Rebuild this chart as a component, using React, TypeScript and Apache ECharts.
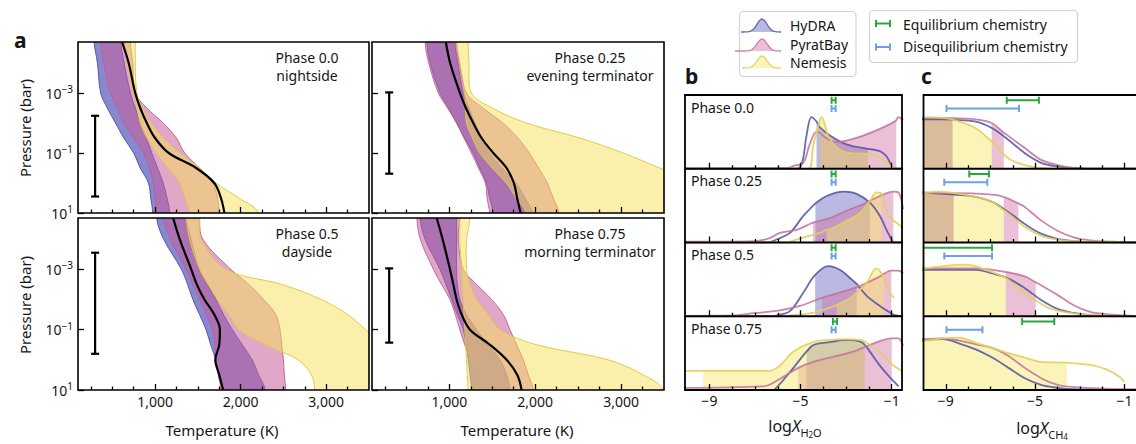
import React, { useEffect, useRef } from "react";
import * as echarts from "echarts";

const FONT = '"Noto Sans", "DejaVu Sans", sans-serif';
const INK = "#161616";

// ---------------- panel a : temperature-pressure profiles ----------------
const LOG10_P_BAR = [-4.7, -4, -3, -2.5, -2, -1.5, -1, -0.5, 0, 0.5, 1];
const T_MIN = 100;
const T_MAX = 3500;
const P_MIN_EXP = -4.7;
const P_MAX_EXP = 1;
const T_MAJOR = [1000, 2000, 3000];
const T_MINOR = [250, 500, 750, 1250, 1500, 1750, 2250, 2500, 2750, 3250];
const P_TICKS = [-3, -1, 1];
const PHASE_NAMES = ["Phase 0.0", "Phase 0.25", "Phase 0.5", "Phase 0.75"];
const PHASE_SIDES = ["nightside", "evening terminator", "dayside", "morning terminator"];

// Temperature (K) at each pressure level, one row per phase
const HYDRA_T_LOW = [
  [288, 327, 365, 442, 538, 635, 750, 827, 923, 950, 973],
  [738, 777, 892, 990, 1085, 1180, 1277, 1354, 1431, 1470, 1508],
  [1019, 1100, 1308, 1380, 1442, 1520, 1596, 1650, 1711, 1750, 1788],
  [659, 717, 891, 961, 1027, 1093, 1163, 1194, 1221, 1241, 1260],
];
const HYDRA_T_HIGH = [
  [600, 640, 712, 770, 827, 900, 962, 1030, 1096, 1140, 1173],
  [1065, 1100, 1162, 1230, 1296, 1380, 1469, 1620, 1777, 1880, 1969],
  [1365, 1420, 1519, 1610, 1711, 1800, 1904, 2020, 2135, 2210, 2288],
  [1085, 1085, 1085, 1093, 1124, 1202, 1318, 1454, 1590, 1667, 1706],
];
const PYRAT_T_LOW = [
  [365, 400, 481, 560, 635, 750, 865, 930, 981, 1000, 1019],
  [719, 760, 873, 980, 1085, 1170, 1258, 1340, 1420, 1440, 1469],
  [1096, 1180, 1365, 1440, 1519, 1600, 1673, 1700, 1711, 1740, 1769],
  [623, 662, 815, 910, 1008, 1070, 1123, 1180, 1238, 1270, 1296],
];
const PYRAT_T_HIGH = [
  [711, 740, 769, 904, 1096, 1250, 1346, 1519, 1673, 1730, 1750],
  [1085, 1120, 1200, 1392, 1623, 1800, 1931, 2040, 2142, 2210, 2277],
  [1520, 1558, 1885, 2096, 2269, 2411, 2461, 2480, 2500, 2511, 2527],
  [1124, 1105, 1163, 1318, 1493, 1629, 1706, 1784, 1861, 1920, 1978],
];
const NEMESIS_T_LOW = [
  [654, 673, 750, 790, 827, 904, 1019, 1150, 1290, 1350, 1404],
  [1085, 1123, 1181, 1190, 1200, 1270, 1354, 1500, 1662, 1780, 1892],
  [1365, 1404, 1520, 1620, 1731, 1865, 1981, 2288, 2673, 2827, 2865],
  [1123, 1123, 1142, 1150, 1162, 1170, 1181, 1190, 1200, 1210, 1219],
];
const NEMESIS_T_HIGH = [
  [769, 769, 788, 850, 950, 1100, 1288, 1519, 1711, 1980, 2211],
  [1219, 1230, 1258, 1500, 1900, 2520, 3025, 3450, 3900, 4200, 4500],
  [1519, 1540, 1827, 2480, 2942, 3250, 3460, 3650, 3800, 3900, 4000],
  [1241, 1202, 1202, 1241, 1318, 1454, 1590, 2017, 2850, 3258, 3491],
];
const MEDIAN_T = [
  [615, 692, 769, 827, 904, 1000, 1160, 1480, 1692, 1770, 1811],
  [960, 1010, 1124, 1194, 1279, 1376, 1512, 1667, 1752, 1790, 1830],
  [1212, 1288, 1423, 1488, 1577, 1692, 1758, 1750, 1704, 1750, 1796],
  [853, 922, 1008, 1047, 1085, 1144, 1241, 1473, 1667, 1792, 1842],
];
// black bars: probed pressure range (log10 bar) drawn at T = 300 K
const CF_T = 300;
const CF_TOP = [-2.24, -3.02, -3.55, -3.03];
const CF_BOTTOM = [0.45, -0.31, -0.2, -0.57];

// ---------------- panels b, c : abundance posteriors ----------------
const B_XMIN = -10.07;
const C_XMIN = -10.0;
const BC_XSPAN = 9.52;
const LOGX_MAJOR = [-9, -5, -1];
const LOGX_MINOR = [-8, -7, -6, -4, -3, -2];

const H2O_HYDRA = [
  [[-10.3, 0], [-5.3, 0], [-5.03, 0.02], [-4.88, 0.15], [-4.74, 0.45], [-4.52, 0.7], [-4.3, 0.64], [-4.15, 0.56], [-3.71, 0.45], [-2.99, 0.33], [-2.05, 0.27], [-1.52, 0.24], [-1.23, 0.17], [-1.01, 0.04], [-0.9, 0], [-0.5, 0]],
  [[-10.3, 0], [-6.4, 0], [-6.06, 0.04], [-5.47, 0.13], [-4.88, 0.36], [-4.45, 0.5], [-4.35, 0.53], [-3.86, 0.63], [-3.13, 0.69], [-2.54, 0.66], [-1.96, 0.54], [-1.52, 0.36], [-1.23, 0.17], [-1.01, 0.04], [-0.9, 0], [-0.5, 0]],
  [[-10.3, 0], [-6.2, 0], [-6.06, 0.01], [-5.47, 0.07], [-4.88, 0.32], [-4.36, 0.56], [-3.79, 0.68], [-3.28, 0.63], [-2.69, 0.48], [-2.54, 0.44], [-2.11, 0.28], [-1.52, 0.14], [-1.08, 0.05], [-0.9, 0.02], [-0.5, 0]],
  [[-10.3, 0], [-6.2, 0], [-6.06, 0.03], [-5.47, 0.24], [-4.88, 0.47], [-4.74, 0.52], [-4.44, 0.61], [-3.71, 0.65], [-2.99, 0.68], [-2.4, 0.66], [-2.2, 0.62], [-1.96, 0.52], [-1.52, 0.33], [-1.08, 0.17], [-0.7, 0.05]],
];
const H2O_PYRAT = [
  [[-10.3, 0.005], [-5.6, 0.01], [-5.3, 0.04], [-4.88, 0.08], [-4.6, 0.33], [-4.3, 0.5], [-4.15, 0.49], [-3.9, 0.42], [-3.42, 0.36], [-2.99, 0.38], [-2.25, 0.45], [-1.52, 0.54], [-0.93, 0.63], [-0.8, 0.66], [-0.71, 0.7], [-0.5, 0.66]],
  [[-10.3, 0.01], [-7, 0.02], [-6.35, 0.06], [-5.91, 0.13], [-5.18, 0.17], [-4.45, 0.27], [-3.71, 0.33], [-2.99, 0.43], [-2.25, 0.52], [-1.52, 0.63], [-0.93, 0.69], [-0.71, 0.68], [-0.5, 0.45]],
  [[-10.3, 0.005], [-8, 0.01], [-7.37, 0.03], [-5.91, 0.08], [-5.03, 0.14], [-4.06, 0.25], [-3.28, 0.32], [-2.4, 0.41], [-1.52, 0.54], [-1.02, 0.62], [-0.71, 0.62], [-0.5, 0.58]],
  [[-10.3, 0.03], [-6.64, 0.05], [-5.91, 0.15], [-5.1, 0.3], [-4.44, 0.38], [-3.57, 0.45], [-2.69, 0.52], [-1.81, 0.63], [-1.0, 0.7], [-0.71, 0.7], [-0.5, 0.6]],
];
const H2O_NEMESIS = [
  [[-10.3, 0], [-4.66, 0], [-4.45, 0.3], [-4.15, 0.66], [-4.08, 0.7], [-3.79, 0.45], [-3.42, 0.29], [-2.99, 0.22], [-2.05, 0.2], [-1.52, 0.15], [-1.1, 0.05], [-0.9, 0]],
  [[-10.3, 0], [-5.6, 0], [-5.47, 0.01], [-4.74, 0.08], [-4.15, 0.13], [-3.86, 0.17], [-3.57, 0.2], [-2.99, 0.29], [-2.4, 0.4], [-1.96, 0.56], [-1.67, 0.68], [-1.45, 0.66], [-1.23, 0.42], [-1.0, 0.32], [-0.5, 0.2]],
  [[-10.3, 0], [-5.5, 0], [-5.47, 0.01], [-4.44, 0.05], [-3.42, 0.15], [-2.69, 0.28], [-2.11, 0.45], [-1.67, 0.65], [-1.35, 0.53], [-1.08, 0.32], [-0.9, 0.25]],
  [[-10.3, 0.26], [-9.27, 0.26], [-8, 0.26], [-6.35, 0.26], [-5.91, 0.33], [-5.32, 0.52], [-4.44, 0.65], [-3.71, 0.68], [-2.99, 0.69], [-2.4, 0.68], [-2.2, 0.66], [-1.96, 0.61], [-1.52, 0.52], [-1.0, 0.35], [-0.5, 0.25]],
];
const H2O_HYDRA_CI = [[[-4.3, -2.05]], [[-4.35, -1.96]], [[-4.36, -2.54]], [[-4.74, -2.2]]];
const H2O_PYRAT_CI = [[[-4.15, -0.8]], [[-4.45, -0.93]], [[-4.06, -1.02]], [[-5.1, -1.0]]];
const H2O_NEMESIS_CI = [[[-4.15, -2.05]], [[-3.86, -1.45]], [[-3.42, -1.35]], [[-9.27, -2.2]]];
const H2O_EQ = [[-3.64, -3.46], [-3.64, -3.46], [-3.64, -3.46], [-3.58, -3.4]];
const H2O_DISEQ = [[-3.64, -3.46], [-3.64, -3.46], [-3.64, -3.46], [-3.64, -3.46]];

const CH4_HYDRA = [
  [[-10.1, 0.67], [-9.12, 0.67], [-8.7, 0.665], [-7.66, 0.64], [-6.92, 0.55], [-6.19, 0.39], [-5.46, 0.21], [-4.73, 0.08], [-4.0, 0.03], [-3.27, 0.01], [-2.5, 0], [-0.5, 0]],
  [[-10.1, 0.68], [-9.12, 0.66], [-8.65, 0.65], [-7.66, 0.62], [-6.92, 0.55], [-6.19, 0.41], [-5.46, 0.25], [-4.73, 0.12], [-4.0, 0.05], [-3.27, 0.02], [-2.5, 0.005], [-0.5, 0]],
  [[-10.1, 0.63], [-9.12, 0.63], [-7.66, 0.63], [-6.92, 0.58], [-6.19, 0.51], [-5.46, 0.38], [-4.73, 0.22], [-4.0, 0.1], [-3.27, 0.045], [-2.54, 0.015], [-1.5, 0], [-0.5, 0]],
  [[-10.1, 0.67], [-9.12, 0.69], [-8.39, 0.63], [-7.66, 0.55], [-6.92, 0.44], [-6.19, 0.3], [-5.46, 0.16], [-4.73, 0.07], [-4.0, 0.03], [-3.27, 0.01], [-0.5, 0]],
];
const CH4_PYRAT = [
  [[-10.1, 0.69], [-9.12, 0.69], [-8.7, 0.685], [-7.66, 0.67], [-6.95, 0.62], [-6.4, 0.49], [-5.46, 0.28], [-4.73, 0.12], [-4.0, 0.05], [-3.27, 0.01], [-2.5, 0], [-0.5, 0]],
  [[-10.1, 0.67], [-8.65, 0.67], [-6.92, 0.65], [-6.41, 0.62], [-5.75, 0.53], [-5.46, 0.48], [-4.73, 0.3], [-4.0, 0.16], [-3.27, 0.07], [-2.54, 0.03], [-1.5, 0.01], [-0.5, 0]],
  [[-10.1, 0.65], [-7.66, 0.65], [-6.32, 0.6], [-5.46, 0.54], [-4.97, 0.46], [-4.73, 0.42], [-4.0, 0.29], [-3.27, 0.15], [-2.54, 0.06], [-1.81, 0.03], [-1.0, 0.01], [-0.5, 0]],
  [[-10.1, 0.69], [-9.12, 0.7], [-8.39, 0.67], [-7.66, 0.62], [-6.92, 0.57], [-6.19, 0.46], [-5.46, 0.3], [-4.73, 0.16], [-4.0, 0.07], [-3.27, 0.04], [-1.81, 0.02], [-0.5, 0.01]],
];
const CH4_NEMESIS = [
  [[-10.1, 0.7], [-9.12, 0.69], [-8.39, 0.64], [-7.66, 0.55], [-6.95, 0.37], [-6.19, 0.14], [-5.46, 0.05], [-4.73, 0.01], [-4.0, 0], [-0.5, 0]],
  [[-10.1, 0.66], [-9.4, 0.69], [-7.66, 0.62], [-6.92, 0.55], [-6.41, 0.44], [-6.19, 0.39], [-5.46, 0.21], [-4.73, 0.09], [-4.0, 0.04], [-3.27, 0.02], [-1.81, 0.01], [-0.5, 0]],
  [[-10.1, 0.64], [-9.12, 0.68], [-8.1, 0.7], [-7.2, 0.63], [-6.32, 0.52], [-5.75, 0.38], [-5.0, 0.22], [-4.29, 0.1], [-3.27, 0.04], [-2.0, 0.01], [-0.5, 0]],
  [[-10.1, 0.66], [-9.12, 0.7], [-8.39, 0.71], [-7.66, 0.64], [-6.92, 0.57], [-6.19, 0.5], [-5.46, 0.44], [-4.73, 0.38], [-3.58, 0.37], [-2.54, 0.34], [-1.81, 0.28], [-1.22, 0.18], [-1.0, 0.11]],
];
const CH4_HYDRA_CI = [[[-10.1, -8.7]], [[-10.1, -8.65]], [], []];
const CH4_PYRAT_CI = [[[-10.1, -8.7], [-6.95, -6.4]], [[-10.1, -8.65], [-6.41, -5.75]], [[-6.32, -4.97]], []];
const CH4_NEMESIS_CI = [[[-10.1, -6.95]], [[-10.1, -6.41]], [[-10.1, -6.32]], [[-10.1, -3.58]]];
const CH4_EQ = [[-6.27, -4.83], [-7.95, -7.07], [-10.4, -6.93], [-5.58, -4.14]];
const CH4_DISEQ = [[-8.97, -5.72], [-9.07, -7.14], [-9.07, -6.93], [-8.97, -7.36]];
const EQ_LEVEL = 0.93;
const DISEQ_LEVEL = 0.818;

// ---------------- layout & styles ----------------
const A_BOXES = [
  { l: 78, t: 42, w: 291, h: 171 },
  { l: 372, t: 42, w: 292, h: 171 },
  { l: 78, t: 218, w: 291, h: 172 },
  { l: 372, t: 218, w: 292, h: 172 },
];
const A_TEXT_X = [307, 590, 307, 590];
const ROW_TOPS = [95, 168.75, 242.5, 316.25];
const ROW_H = 73.75;
const B_LEFT = 685;
const C_LEFT = 923.5;
const BC_W = 217;

const A_STYLE = [
  { fill: "rgba(80,80,185,0.68)", edge: "rgba(75,75,165,0.9)" },
  { fill: "rgba(200,95,155,0.55)", edge: "rgba(185,95,145,0.9)" },
  { fill: "rgba(246,226,90,0.5)", edge: "rgba(222,200,70,0.95)" },
];
const D_STYLE = [
  { line: "rgba(80,80,165,0.85)", fill: "rgba(100,100,190,0.45)" },
  { line: "rgba(195,110,155,0.85)", fill: "rgba(210,112,165,0.45)" },
  { line: "rgba(226,208,90,0.9)", fill: "rgba(246,230,100,0.45)" },
];
const EQ_COLOR = "#2aa83d";
const DISEQ_COLOR = "#6d9fea";
const SMOOTH = 0.35;

function bandSeries(xi: number, yi: number, lo: number[], hi: number[], fill: string, edge: string) {
  return {
    type: "custom",
    xAxisIndex: xi,
    yAxisIndex: yi,
    clip: true,
    silent: true,
    z: 2,
    data: LOG10_P_BAR.map((p, i) => [lo[i], hi[i], p]),
    renderItem: (params: any, api: any) => {
      if (params.dataIndex !== 0) return null;
      const loPts = LOG10_P_BAR.map((p, i) => api.coord([lo[i], p]));
      const hiPts = LOG10_P_BAR.map((p, i) => api.coord([hi[i], p]));
      const ext = (pts: number[][]) => [
        [pts[0][0], pts[0][1] - 30],
        ...pts,
        [pts[pts.length - 1][0], pts[pts.length - 1][1] + 30],
      ];
      const L = ext(loPts);
      const H = ext(hiPts);
      return {
        type: "group",
        children: [
          { type: "polygon", shape: { points: [...L, ...H.slice().reverse()], smooth: SMOOTH }, style: { fill, stroke: "none" } },
          { type: "polyline", shape: { points: L, smooth: SMOOTH }, style: { stroke: edge, lineWidth: 1, fill: "none" } },
          { type: "polyline", shape: { points: H, smooth: SMOOTH }, style: { stroke: edge, lineWidth: 1, fill: "none" } },
        ],
      };
    },
  };
}

function vErrBar(xi: number, yi: number, t: number, top: number, bottom: number) {
  return {
    type: "custom",
    xAxisIndex: xi,
    yAxisIndex: yi,
    z: 5,
    silent: true,
    data: [[t, top, bottom]],
    renderItem: (_p: any, api: any) => {
      const a = api.coord([api.value(0), api.value(1)]);
      const b = api.coord([api.value(0), api.value(2)]);
      const s = { stroke: "#000", lineWidth: 2.2 };
      return {
        type: "group",
        children: [
          { type: "line", shape: { x1: a[0], y1: a[1], x2: b[0], y2: b[1] }, style: s },
          { type: "line", shape: { x1: a[0] - 4, y1: a[1], x2: a[0] + 4, y2: a[1] }, style: s },
          { type: "line", shape: { x1: b[0] - 4, y1: b[1], x2: b[0] + 4, y2: b[1] }, style: s },
        ],
      };
    },
  };
}

function hErrBar(xi: number, yi: number, range: number[], level: number, color: string) {
  return {
    type: "custom",
    xAxisIndex: xi,
    yAxisIndex: yi,
    z: 5,
    clip: true,
    silent: true,
    data: [[range[0], range[1], level]],
    renderItem: (_p: any, api: any) => {
      const a = api.coord([api.value(0), api.value(2)]);
      const b = api.coord([api.value(1), api.value(2)]);
      const s = { stroke: color, lineWidth: 2 };
      return {
        type: "group",
        children: [
          { type: "line", shape: { x1: a[0], y1: a[1], x2: b[0], y2: b[1] }, style: s },
          { type: "line", shape: { x1: a[0], y1: a[1] - 3.5, x2: a[0], y2: a[1] + 3.5 }, style: s },
          { type: "line", shape: { x1: b[0], y1: b[1] - 3.5, x2: b[0], y2: b[1] + 3.5 }, style: s },
        ],
      };
    },
  };
}

function txt(x: number, y: number, text: string, extra: any = {}) {
  const align = extra.align || "left";
  const va = extra.verticalAlign || "middle";
  return {
    type: "text",
    x,
    y,
    rotation: extra.rotation || 0,
    z: 60,
    silent: true,
    style: {
      text,
      fill: INK,
      fontSize: extra.fontSize || 14,
      fontWeight: extra.fontWeight || "normal",
      fontFamily: FONT,
      align,
      verticalAlign: va,
      textAlign: align,
      textVerticalAlign: va,
      rich: extra.rich,
    },
  };
}

function bell(x0: number, x1: number, base: number, h: number, xc: number, s: number, fill: string, stroke: string) {
  const pts: number[][] = [];
  for (let i = 0; i <= 30; i++) {
    const x = x0 + ((x1 - x0) * i) / 30;
    pts.push([x, base - h * Math.exp(-(((x - xc) / s) ** 2))]);
  }
  return [
    { type: "polygon", z: 60, silent: true, shape: { points: [...pts, [x1, base], [x0, base]] }, style: { fill, stroke: "none" } },
    { type: "polyline", z: 61, silent: true, shape: { points: pts }, style: { stroke, lineWidth: 1.3, fill: "none" } },
  ];
}

function hIcon(x0: number, x1: number, y: number, color: string) {
  const s = { stroke: color, lineWidth: 2 };
  return [
    { type: "line", z: 60, silent: true, shape: { x1: x0, y1: y, x2: x1, y2: y }, style: s },
    { type: "line", z: 60, silent: true, shape: { x1: x0, y1: y - 3.5, x2: x0, y2: y + 3.5 }, style: s },
    { type: "line", z: 60, silent: true, shape: { x1: x1, y1: y - 3.5, x2: x1, y2: y + 3.5 }, style: s },
  ];
}

function buildOption() {
  const grid: any[] = [];
  const xAxis: any[] = [];
  const yAxis: any[] = [];
  const series: any[] = [];
  const graphic: any[] = [];
  const tickStyle = { color: "#000", width: 1.3 };
  const noLine = { show: false, onZero: false };

  // ---------- panel a ----------
  const aLo = [HYDRA_T_LOW, PYRAT_T_LOW, NEMESIS_T_LOW];
  const aHi = [HYDRA_T_HIGH, PYRAT_T_HIGH, NEMESIS_T_HIGH];
  A_BOXES.forEach((b, k) => {
    const gi = grid.length;
    grid.push({ left: b.l, top: b.t, width: b.w, height: b.h });
    const xi = xAxis.length;
    xAxis.push({
      type: "value", gridIndex: gi, min: T_MIN, max: T_MAX, position: "bottom", z: 6,
      axisLine: noLine, splitLine: { show: false },
      axisTick: { show: true, inside: true, length: 6, customValues: T_MAJOR, lineStyle: tickStyle },
      axisLabel: {
        show: k >= 2, customValues: T_MAJOR, margin: 4, fontSize: 14, color: INK, fontFamily: FONT,
        formatter: (v: number) => Math.round(v).toLocaleString("en-US"),
      },
    });
    xAxis.push({
      type: "value", gridIndex: gi, min: T_MIN, max: T_MAX, position: "bottom", z: 6,
      axisLine: noLine, splitLine: { show: false },
      axisTick: { show: true, inside: true, length: 3.5, customValues: T_MINOR, lineStyle: tickStyle },
      axisLabel: { show: false },
    });
    const yi = yAxis.length;
    yAxis.push({
      type: "value", gridIndex: gi, min: P_MIN_EXP, max: P_MAX_EXP, inverse: true, z: 6, position: "left",
      axisLine: noLine, splitLine: { show: false },
      axisTick: { show: true, inside: true, length: 6, customValues: P_TICKS, lineStyle: tickStyle },
      axisLabel: {
        show: k % 2 === 0, customValues: P_TICKS, margin: 5,
        formatter: (v: number) => `{b|10}{s|${v < 0 ? "\u2212" : ""}${Math.abs(Math.round(v))}}`,
        rich: {
          b: { fontSize: 14, color: INK, fontFamily: FONT, lineHeight: 18 },
          s: { fontSize: 10, color: INK, fontFamily: FONT, lineHeight: 10, verticalAlign: "top" },
        },
      },
    });
    for (let m = 0; m < 3; m++) {
      series.push(bandSeries(xi, yi, aLo[m][k], aHi[m][k], A_STYLE[m].fill, A_STYLE[m].edge));
    }
    series.push({
      type: "line", xAxisIndex: xi, yAxisIndex: yi, z: 4, silent: true,
      data: MEDIAN_T[k].map((t, i) => [t, LOG10_P_BAR[i]]),
      smooth: SMOOTH, symbol: "none", showSymbol: false,
      lineStyle: { color: "#000", width: 2.2 },
    });
    series.push(vErrBar(xi, yi, CF_T, CF_TOP[k], CF_BOTTOM[k]));
    graphic.push(txt(A_TEXT_X[k], b.t + 15, PHASE_NAMES[k], { align: "center" }));
    graphic.push(txt(A_TEXT_X[k], b.t + 33, PHASE_SIDES[k], { align: "center" }));
    graphic.push({
      type: "rect", z: 50, silent: true,
      shape: { x: b.l, y: b.t, width: b.w, height: b.h },
      style: { fill: "none", stroke: "#000", lineWidth: 1.6 },
    });
  });

  // ---------- panels b & c ----------
  const panels = [
    { left: B_LEFT, xmin: B_XMIN, curves: [H2O_HYDRA, H2O_PYRAT, H2O_NEMESIS], ci: [H2O_HYDRA_CI, H2O_PYRAT_CI, H2O_NEMESIS_CI], eq: H2O_EQ, diseq: H2O_DISEQ },
    { left: C_LEFT, xmin: C_XMIN, curves: [CH4_HYDRA, CH4_PYRAT, CH4_NEMESIS], ci: [CH4_HYDRA_CI, CH4_PYRAT_CI, CH4_NEMESIS_CI], eq: CH4_EQ, diseq: CH4_DISEQ },
  ];
  panels.forEach((P, pi) => {
    for (let r = 0; r < 4; r++) {
      const gi = grid.length;
      grid.push({ left: P.left, top: ROW_TOPS[r], width: BC_W, height: ROW_H });
      const xi = xAxis.length;
      xAxis.push({
        type: "value", gridIndex: gi, min: P.xmin, max: P.xmin + BC_XSPAN, position: "bottom", z: 6,
        axisLine: noLine, splitLine: { show: false },
        axisTick: { show: true, inside: true, length: 6, customValues: LOGX_MAJOR, lineStyle: tickStyle },
        axisLabel: {
          show: r === 3, customValues: LOGX_MAJOR, margin: 3, fontSize: 14, color: INK, fontFamily: FONT,
          formatter: (v: number) => (v < 0 ? "\u2212" : "") + Math.abs(Math.round(v)),
        },
      });
      xAxis.push({
        type: "value", gridIndex: gi, min: P.xmin, max: P.xmin + BC_XSPAN, position: "bottom", z: 6,
        axisLine: noLine, splitLine: { show: false },
        axisTick: { show: true, inside: true, length: 3.5, customValues: LOGX_MINOR, lineStyle: tickStyle },
        axisLabel: { show: false },
      });
      const yi = yAxis.length;
      yAxis.push({ type: "value", gridIndex: gi, min: 0, max: 1, show: false, axisLine: noLine });
      for (let m = 0; m < 3; m++) {
        const curve = P.curves[m][r];
        P.ci[m][r].forEach((seg: number[]) => {
          series.push({
            type: "line", xAxisIndex: xi, yAxisIndex: yi, z: 2, silent: true,
            data: curve.filter((p) => p[0] >= seg[0] - 1e-9 && p[0] <= seg[1] + 1e-9),
            smooth: SMOOTH, symbol: "none", showSymbol: false,
            lineStyle: { width: 0, opacity: 0 },
            areaStyle: { color: D_STYLE[m].fill, opacity: 1 },
          });
        });
      }
      for (let m = 0; m < 3; m++) {
        series.push({
          type: "line", xAxisIndex: xi, yAxisIndex: yi, z: 3, silent: true,
          data: P.curves[m][r], smooth: SMOOTH, symbol: "none", showSymbol: false,
          lineStyle: { color: D_STYLE[m].line, width: 1.8 },
        });
      }
      series.push(hErrBar(xi, yi, P.eq[r], EQ_LEVEL, EQ_COLOR));
      series.push(hErrBar(xi, yi, P.diseq[r], DISEQ_LEVEL, DISEQ_COLOR));
      if (pi === 0) graphic.push(txt(P.left + 6, ROW_TOPS[r] + 12, PHASE_NAMES[r]));
      if (r > 0) {
        graphic.push({
          type: "line", z: 50, silent: true,
          shape: { x1: P.left, y1: ROW_TOPS[r], x2: P.left + BC_W, y2: ROW_TOPS[r] },
          style: { stroke: "#000", lineWidth: 1.8 },
        });
      }
    }
    graphic.push({
      type: "rect", z: 50, silent: true,
      shape: { x: P.left, y: ROW_TOPS[0], width: BC_W, height: ROW_H * 4 },
      style: { fill: "none", stroke: "#000", lineWidth: 1.8 },
    });
  });

  // ---------- axis titles, panel letters ----------
  graphic.push(txt(24.5, 128, "Pressure (bar)", { align: "center", fontSize: 15, rotation: Math.PI / 2 }));
  graphic.push(txt(24.5, 305, "Pressure (bar)", { align: "center", fontSize: 15, rotation: Math.PI / 2 }));
  graphic.push(txt(222, 430, "Temperature (K)", { align: "center", fontSize: 15 }));
  graphic.push(txt(517, 430, "Temperature (K)", { align: "center", fontSize: 15 }));
  const subRich = {
    n: { fontSize: 16, fontFamily: FONT, fill: INK, color: INK, lineHeight: 24 },
    i: { fontSize: 16, fontFamily: FONT, fill: INK, color: INK, lineHeight: 24, fontStyle: "italic" },
    s: { fontSize: 11, fontFamily: FONT, fill: INK, color: INK, lineHeight: 13, verticalAlign: "bottom" },
    t: { fontSize: 8, fontFamily: FONT, fill: INK, color: INK, lineHeight: 7, verticalAlign: "bottom" },
  };
  graphic.push(txt(795, 426, "{n|log}{i|X}{s|H}{t|2}{s|O}", { align: "center", rich: subRich }));
  graphic.push(txt(1042, 428, "{n|log}{i|X}{s|CH}{t|4}", { align: "center", rich: subRich }));
  graphic.push(txt(14, 50, "a", { fontSize: 21, fontWeight: "bold", verticalAlign: "bottom" }));
  graphic.push(txt(685, 86, "b", { fontSize: 21, fontWeight: "bold", verticalAlign: "bottom" }));
  graphic.push(txt(921, 86, "c", { fontSize: 21, fontWeight: "bold", verticalAlign: "bottom" }));

  // ---------- legends ----------
  graphic.push({
    type: "rect", z: 55, silent: true,
    shape: { x: 739.5, y: 11.5, width: 116.5, height: 65, r: 4 },
    style: { fill: "#fff", stroke: "#d2d2d2", lineWidth: 1.2 },
  });
  graphic.push(...bell(741, 781, 32, 13, 762, 7, D_STYLE[0].fill, D_STYLE[0].line));
  graphic.push(...bell(735, 781, 51, 12, 762, 7, D_STYLE[1].fill, D_STYLE[1].line));
  graphic.push(...bell(742, 781, 68, 12, 762, 7, D_STYLE[2].fill, D_STYLE[2].line));
  graphic.push(txt(790, 25, "HyDRA"));
  graphic.push(txt(790, 44, "PyratBay"));
  graphic.push(txt(790, 62, "Nemesis"));
  graphic.push({
    type: "rect", z: 55, silent: true,
    shape: { x: 869.5, y: 10.5, width: 208, height: 52, r: 4 },
    style: { fill: "#fff", stroke: "#d2d2d2", lineWidth: 1.2 },
  });
  graphic.push(...hIcon(876, 890, 23.5, EQ_COLOR));
  graphic.push(...hIcon(876, 890, 47, DISEQ_COLOR));
  graphic.push(txt(903, 24.5, "Equilibrium chemistry"));
  graphic.push(txt(903, 46.5, "Disequilibrium chemistry"));

  return {
    animation: false,
    backgroundColor: "#fff",
    textStyle: { fontFamily: FONT },
    grid,
    xAxis,
    yAxis,
    series,
    graphic,
  };
}

export default function App() {
  const ref = useRef<HTMLDivElement>(null);
  useEffect(() => {
    const chart = echarts.init(ref.current as HTMLDivElement, null, { renderer: "svg" });
    chart.setOption(buildOption() as any);
    return () => chart.dispose();
  }, []);
  return (
    <div
      ref={ref}
      style={{ position: "fixed", left: 0, top: 0, width: 1136, height: 444, background: "#fff" }}
    />
  );
}
